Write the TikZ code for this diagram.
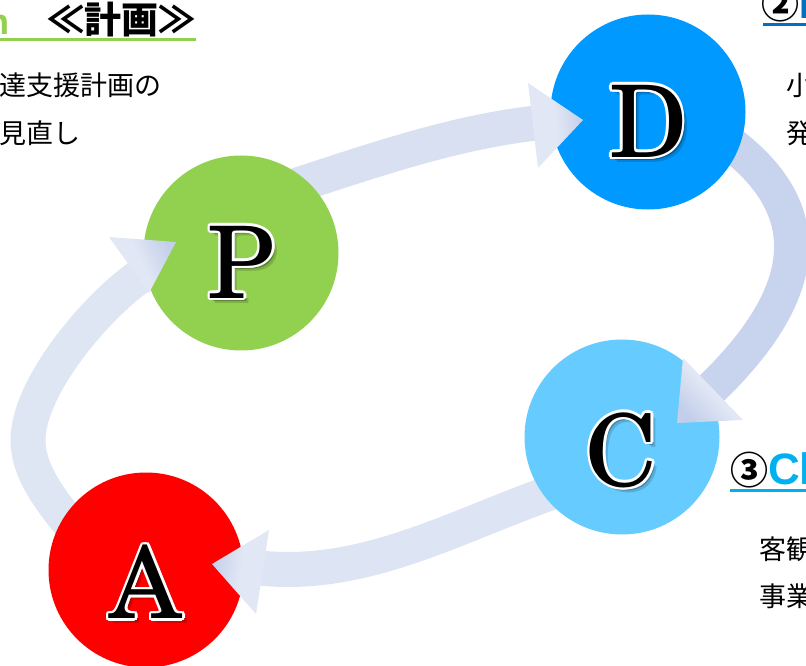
\documentclass[tikz,border=0pt]{standalone}
\usepackage{fontspec}
\newfontfamily\cjk{Noto Sans CJK JP}
\newfontfamily\lsans{Liberation Sans}
\newfontfamily\scholaface{texgyreschola-regular}[Extension=.otf]
\usetikzlibrary{calc}

\definecolor{pgreen}{HTML}{92D050}
\definecolor{dblue}{HTML}{0099FF}
\definecolor{cblue}{HTML}{66CCFF}
\definecolor{ared}{HTML}{FF0000}
\definecolor{doblue}{HTML}{0070C0}
\definecolor{chkblue}{HTML}{00B0F0}
\definecolor{bandone}{HTML}{D8E0F1}
\definecolor{bandtwo}{HTML}{C8D4ED}
\definecolor{bandthree}{HTML}{DDE4F3}
\definecolor{bandfour}{HTML}{DEE6F3}
\definecolor{headlight}{HTML}{E1E7F4}
\definecolor{headdark}{HTML}{C3CFEA}

\tikzset{
  disc/.style={circle, inner sep=0pt, minimum size=195pt},
  bigletter/.style={font=\scholaface\fontsize{100}{100}\selectfont, inner sep=0pt},
  band/.style={line width=35pt},
  headtri/.style={bottom color=headlight, top color=headdark, middle color=headlight},
  bodyline/.style={font=\cjk\fontsize{27}{32}\selectfont, inner sep=0pt, anchor=base west},
  heading/.style={font=\cjk\bfseries\fontsize{37}{37}\selectfont, inner sep=0pt, anchor=base west},
  underrule/.style={line width=3pt},
}

\begin{document}
\begin{tikzpicture}[x=1pt,y=1pt]
\useasboundingbox (0,0) rectangle (806,665);
\clip (0,0) rectangle (806,665);

% ---- cycle bands (tails tucked under the source discs) ----
\coordinate (s1) at (285,476); \coordinate (a1) at (366,502);
\coordinate (b1) at (449,532); \coordinate (e1) at (536,542);
\coordinate (s2) at (720,529); \coordinate (a2) at (827,455);
\coordinate (b2) at (806,367); \coordinate (e2) at (710,275);
\coordinate (s3) at (574,180); \coordinate (a3) at (471,148);
\coordinate (b3) at (372,85);  \coordinate (e3) at (260,97);
\coordinate (s4) at (90,117);  \coordinate (a4) at (65,148);
\coordinate (b4) at (28,185);  \coordinate (m4) at (28,225);
\coordinate (c4) at (28,275);  \coordinate (d4) at (90,353);
\coordinate (e4) at (140,389);

\draw[band, bandone]   (s1) .. controls (a1) and (b1) .. (e1);
\draw[band, bandtwo]   (s2) .. controls (a2) and (b2) .. (e2);
\draw[band, bandthree] (s3) .. controls (a3) and (b3) .. (e3);
\draw[band, bandfour]  (s4) .. controls (a4) and (b4) .. (m4)
                            .. controls (c4) and (d4) .. (e4);

% ---- the four discs ----
\node[disc, fill=pgreen] (P) at (241,412) {};
\node[disc, fill=dblue]  (D) at (648,553) {};
\node[disc, fill=cblue]  (C) at (622,228) {};
\node[disc, fill=ared]   (A) at (146,95)  {};

% ---- arrow heads, lying over the target discs ----
\coordinate (h1a) at (528,582); \coordinate (h1t) at (583,545); \coordinate (h1b) at (538,497);
\coordinate (h2a) at (683,307); \coordinate (h2t) at (677,242); \coordinate (h2b) at (743,245);
\coordinate (h3a) at (269,135); \coordinate (h3t) at (212,101); \coordinate (h3b) at (256,51);
\coordinate (h4a) at (109,428); \coordinate (h4t) at (176,423); \coordinate (h4b) at (149,372);
\shade[headtri, shading angle=-84] (h1a) -- (h1t) -- (h1b) -- cycle;
\shade[headtri, shading angle=133] (h2a) -- (h2t) -- (h2b) -- cycle;
\shade[headtri, shading angle=81]  (h3a) -- (h3t) -- (h3b) -- cycle;
\shade[headtri, shading angle=-64] (h4a) -- (h4t) -- (h4b) -- cycle;

% ---- big letters: soft shadow, white rim, black face ----
\foreach \n/\dy in {P/9, D/9, C/13, A/12} {
  \coordinate (\n t) at ([yshift=-\dy]\n.center);
  \node[bigletter, text=black, text opacity=.15] (\n shadowa) at ([shift={(5,-5)}]\n t) {\n};
  \node[bigletter, text=black, text opacity=.25] (\n shadowb) at ([shift={(3,-3)}]\n t) {\n};
  \foreach \a in {0,30,...,330}
    \node[bigletter, text=white] (\n rim\a) at ([shift={(\a:2.4)}]\n t) {\n};
  \node[bigletter, text=black] (\n letter) at (\n t) {\n};
}

% ---- headings ----
\node[font=\lsans\bfseries\fontsize{36}{36}\selectfont, text=pgreen, anchor=base east, inner sep=0pt]
  (planword) at (10,630) {Plan};
\node[heading] (plantitle) at (47,631) {≪計画≫};
\coordinate (pu0) at (0,625); \coordinate (pu1) at (196,625);
\draw[underrule, pgreen] (pu0) -- (pu1);

\node[heading, font=\cjk\bfseries\fontsize{38}{38}\selectfont] (dotitle) at (761,646)
  {②\textcolor{doblue}{\lsans D}};
\coordinate (du0) at (763,640); \coordinate (du1) at (806,640);
\draw[underrule, doblue] (du0) -- (du1);

\node[heading, font=\cjk\bfseries\fontsize{38}{38}\selectfont] (chktitle) at (730,181)
  {③\textcolor{chkblue}{\lsans\fontsize{44}{44}\selectfont Ch}};
\coordinate (cu0) at (730,175); \coordinate (cu1) at (806,175);
\draw[underrule, chkblue] (cu0) -- (cu1);

% ---- body lines ----
\node[bodyline] (planone) at (-1,569) {達支援計画の};
\node[bodyline] (plantwo) at (-1,521) {見直し};
\node[bodyline] (doone)   at (786,569) {小};
\node[bodyline] (dotwo)   at (786,521) {発};
\node[bodyline] (chkone)  at (759,106) {客観};
\node[bodyline] (chktwo)  at (759,59)  {事業};
\end{tikzpicture}
\end{document}
